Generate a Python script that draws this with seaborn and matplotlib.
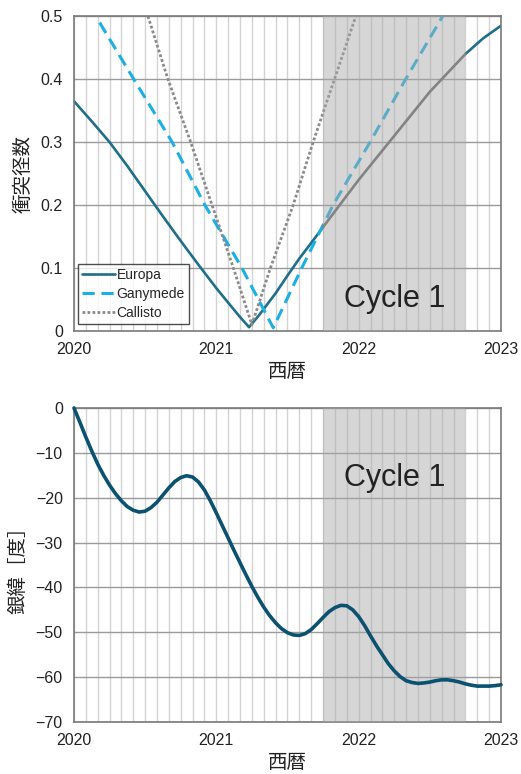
import numpy as np
import pandas as pd
import matplotlib
matplotlib.use("Agg")
import matplotlib.pyplot as plt
from matplotlib.ticker import MultipleLocator, FixedLocator
import seaborn as sns

# --- top panel: impact parameter vs year ---
europa_t = [2020.0, 2020.125, 2020.25, 2020.375, 2020.5, 2020.625, 2020.75,
            2020.875, 2021.0, 2021.083, 2021.167, 2021.23, 2021.3, 2021.417,
            2021.5, 2021.583, 2021.667, 2021.75, 2021.833, 2022.0, 2022.25,
            2022.5, 2022.625, 2022.75, 2022.875, 2023.0]
europa_b = [0.365, 0.333, 0.30, 0.262, 0.222, 0.182, 0.143,
            0.105, 0.068, 0.045, 0.022, 0.006, 0.025, 0.06,
            0.088, 0.115, 0.14, 0.165, 0.19, 0.24, 0.31,
            0.38, 0.41, 0.44, 0.465, 0.485]

ganymede_t = [2020.18, 2020.42, 2020.69, 2020.92, 2021.18, 2021.40,
              2021.60, 2021.82, 2022.08, 2022.33, 2022.59]
ganymede_b = [0.49, 0.40, 0.30, 0.20, 0.10, 0.005, 0.10, 0.20, 0.30, 0.40, 0.50]

callisto_t = [2020.52, 2020.66, 2020.82, 2020.97, 2021.12, 2021.25,
              2021.38, 2021.54, 2021.68, 2021.83, 2021.98]
callisto_b = [0.50, 0.40, 0.30, 0.20, 0.10, 0.01, 0.10, 0.20, 0.30, 0.40, 0.50]

# --- bottom panel: galactic latitude, every half month ---
lat_t = [2020 + k / 24 for k in range(73)]
lat_deg = [0, -3.2, -6.5, -9.6, -12.5, -15.0, -17.2, -19.1, -20.7, -22.0,
           -22.8, -23.2, -23.0, -22.2, -21.0, -19.4, -17.8, -16.4, -15.5, -15.1,
           -15.4, -16.5, -18.3, -20.7, -23.4, -26.2, -29.0, -31.8, -34.5, -37.2,
           -39.8, -42.2, -44.4, -46.3, -47.9, -49.2, -50.1, -50.6, -50.7, -50.3,
           -49.4, -48.1, -46.7, -45.4, -44.5, -44.0, -44.1, -45.0, -46.5, -48.5,
           -50.8, -53.0, -55.0, -57.0, -58.6, -59.9, -60.8, -61.2, -61.4, -61.3,
           -61.1, -60.8, -60.6, -60.6, -60.8, -61.1, -61.5, -61.8, -62.0, -62.0,
           -62.0, -61.9, -61.7]

cycle_span = (2021.75, 2022.75)
years = [2020, 2021, 2022, 2023]

sns.set_theme(style="white")
plt.rcParams['font.family'] = ['Liberation Sans', 'Noto Sans CJK JP', 'DejaVu Sans']
plt.rcParams['axes.unicode_minus'] = True

fig = plt.figure(figsize=(5.21, 7.74), dpi=100)
ax1 = fig.add_axes([0.142, 0.5724, 0.8196, 0.4066])
ax2 = fig.add_axes([0.142, 0.0672, 0.8196, 0.4057])

jp = ['Noto Sans CJK JP', 'DejaVu Sans']


def style_axes(ax, ylim, yticks, ylabel, text_y):
    ax.set_xlim(2020, 2023)
    ax.set_ylim(*ylim)
    ax.xaxis.set_major_locator(FixedLocator(years))
    ax.xaxis.set_minor_locator(MultipleLocator(1 / 12))
    ax.set_yticks(yticks)
    ax.grid(True, axis='x', which='both', color='#d4d4d4', lw=1.0, zorder=0)
    ax.grid(True, axis='y', which='major', color='#9a9a9a', lw=1.0, zorder=0)
    ax.set_axisbelow(True)
    for s in ax.spines.values():
        s.set_color('#7a7a7a')
        s.set_linewidth(1.2)
    ax.tick_params(axis='x', which='major', direction='in', length=4,
                   color='#7a7a7a', labelsize=11.5, pad=8, colors='#222222')
    ax.tick_params(axis='x', which='minor', length=0)
    ax.tick_params(axis='y', length=0, labelsize=11.5, pad=8, colors='#222222')
    ax.set_xticklabels([str(y) for y in years])
    ax.set_xlabel('西暦', family=jp, fontsize=14, color='#222222', labelpad=3)
    ax.set_ylabel(ylabel, family=jp, fontsize=14, color='#222222', labelpad=5)
    ax.axvspan(*cycle_span, color='#a8a8a8', alpha=0.47, lw=0, zorder=3)
    ax.text(sum(cycle_span) / 2, text_y, 'Cycle 1', ha='center', va='center',
            fontsize=22, color='#222222', zorder=5)


# top panel
eu = pd.DataFrame({'t': europa_t, 'b': europa_b})
inside = eu[(eu.t >= cycle_span[0]) & (eu.t <= cycle_span[1])]
before = eu[eu.t <= cycle_span[0]]
after = eu[eu.t >= cycle_span[1]]

sns.lineplot(data=before, x='t', y='b', ax=ax1, color='#1f6e8a', lw=1.9,
             label='Europa', zorder=2)
sns.lineplot(data=after, x='t', y='b', ax=ax1, color='#1f6e8a', lw=1.9, zorder=2)
sns.lineplot(data=inside, x='t', y='b', ax=ax1, color='#838383', lw=1.9, zorder=4)
sns.lineplot(x=ganymede_t, y=ganymede_b, ax=ax1, color='#1ab0e4', lw=2.2,
             linestyle=(0, (4, 2.2)), label='Ganymede', zorder=2)
sns.lineplot(x=callisto_t, y=callisto_b, ax=ax1, color='#8a8a8a', lw=2.0,
             linestyle=(0, (1, 0.8)), label='Callisto', zorder=2)
style_axes(ax1, (0, 0.5), [0, 0.1, 0.2, 0.3, 0.4, 0.5], '衝突径数', 0.05)
ax1.set_yticklabels(['0', '0.1', '0.2', '0.3', '0.4', '0.5'])
leg = ax1.legend(loc='lower left', bbox_to_anchor=(0.009, 0.022), fontsize=10,
                 frameon=True, fancybox=False, handlelength=2.4,
                 handletextpad=0.1, borderpad=0.3, labelspacing=0.35,
                 borderaxespad=0)
leg.get_frame().set_edgecolor('#222222')
leg.get_frame().set_linewidth(1.0)
leg.set_zorder(6)

# bottom panel
sns.lineplot(x=lat_t, y=lat_deg, ax=ax2, color='#0b5170', lw=2.6,
             zorder=4, clip_on=False)
style_axes(ax2, (-70, 0), list(range(0, -71, -10)), '銀緯［度］', -15.6)

fig.savefig('out.png', dpi=100)
